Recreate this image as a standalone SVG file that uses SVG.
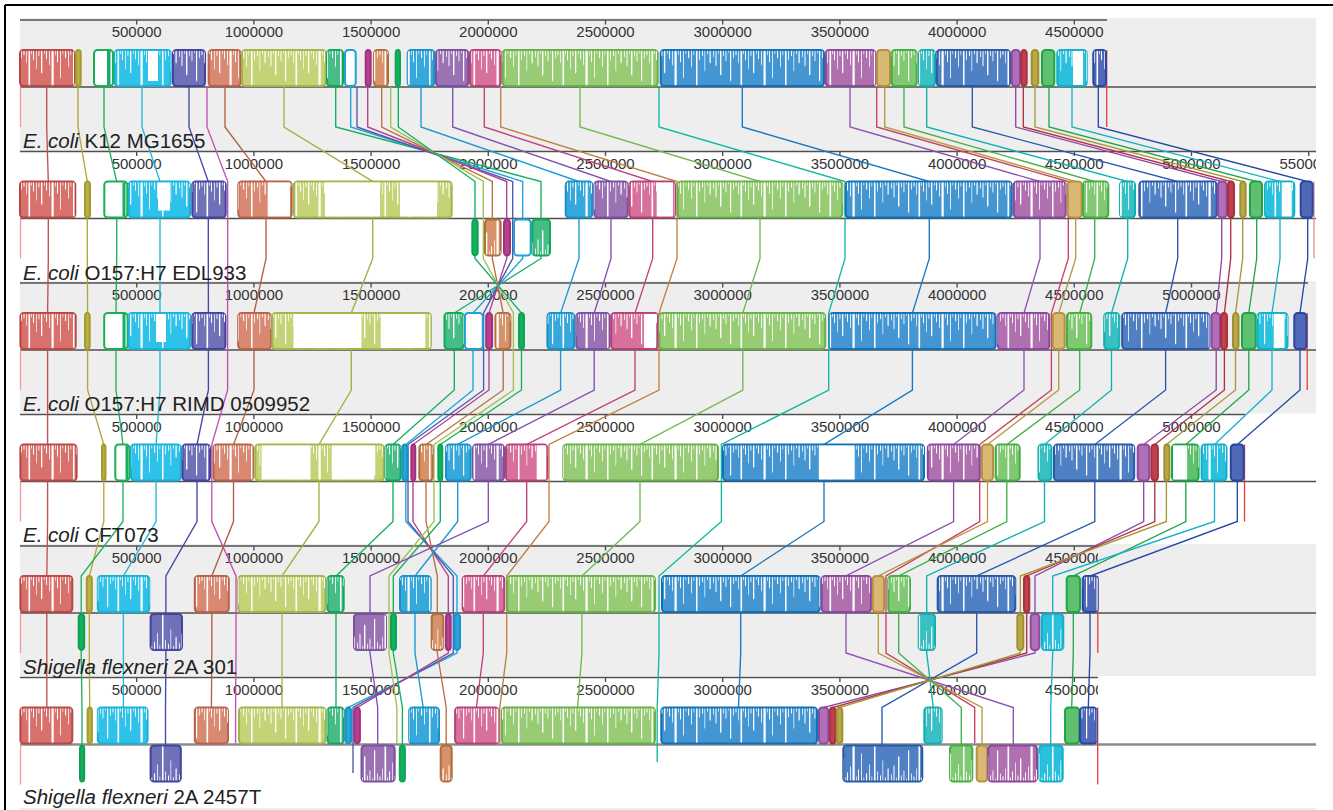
<svg xmlns="http://www.w3.org/2000/svg" width="1333" height="810" viewBox="0 0 1333 810">
<style>
.bg{fill:#eeeeee}
.ax{stroke:#505050;stroke-width:1.4;fill:none}
.tk{font-family:"Liberation Sans",Arial,sans-serif;font-size:15px;fill:#333;text-anchor:middle}
.gl{font-family:"Liberation Sans",Arial,sans-serif;font-size:20.5px;fill:#222}
.gl tspan{font-style:italic}
.cn path{fill:none;stroke-width:1.35}
.blk rect{stroke-width:2;rx:3.5px;ry:3.5px}
.blk rect.pf{fill:url(#prof);stroke:none}
.blk rect.wz{fill:#fff;stroke:none;rx:0;ry:0}
.blk rect.gz{stroke:none;rx:0;ry:0}
.st{stroke:#f29a9a;stroke-width:1.3}
.en{stroke:#e83a3a;stroke-width:1.3}
.A{fill:#d8706c;stroke:#b84848}
.B{fill:#b9b145;stroke:#a39b2e}
.C{fill:#fff;stroke:#18b050}
.C2{fill:#14b060;stroke:#10a050}
.D{fill:#2ec2ea;stroke:#18b2d8}
.E{fill:#6e70b8;stroke:#40449c}
.G{fill:#d98872;stroke:#b8624a}
.H{fill:#c6d276;stroke:#a4b44c}
.I{fill:#46bc86;stroke:#10a858}
.J{fill:#fff;stroke:#1ea0d8}
.J2{fill:#2aa2dc;stroke:#1890c8}
.L{fill:#b8408e;stroke:#a03080}
.M{fill:#d8926a;stroke:#b06e3c}
.O{fill:#14b062;stroke:#0ea454}
.P{fill:#36a8dc;stroke:#1890c8}
.Q{fill:#9a72b4;stroke:#7a50a0}
.R{fill:#d8709c;stroke:#b84078}
.T{fill:#98cc74;stroke:#68b048}
.V{fill:#4496d2;stroke:#1070b8}
.W{fill:#b070b0;stroke:#8848a0}
.Y{fill:#d8b872;stroke:#b89040}
.Z{fill:#80c872;stroke:#40b040}
.AA{fill:#38c0c4;stroke:#10b0b0}
.AB{fill:#5080c4;stroke:#2858a8}
.AC{fill:#b070b8;stroke:#9048a0}
.AD{fill:#c04050;stroke:#a83040}
.AE{fill:#b8a848;stroke:#a09030}
.AF{fill:#60c070;stroke:#18a848}
.AG{fill:#28c0dc;stroke:#10b0c8}
.AH{fill:#5068b8;stroke:#2848a0}
</style>
<defs>
  <!-- similarity profile: white gaps hang from the top of forward blocks and rise from the bottom of inverted ones; tile height = panel pitch -->
  <pattern id="prof" patternUnits="userSpaceOnUse" width="89" height="131.5">
    <g fill="#fff">
      <rect x="1" y="51" width="0.8" height="6"/><rect x="3.5" y="51" width="1" height="15"/><rect x="6" y="51" width="0.7" height="3"/>
      <rect x="8" y="51" width="1.4" height="24"/><rect x="11" y="51" width="0.8" height="5"/><rect x="13.5" y="51" width="0.9" height="10"/>
      <rect x="16" y="51" width="0.7" height="2"/><rect x="18" y="51" width="1.2" height="30"/><rect x="21" y="51" width="0.8" height="7"/>
      <rect x="23.5" y="51" width="1" height="4"/><rect x="26" y="51" width="0.7" height="12"/><rect x="28.5" y="51" width="1.6" height="34"/>
      <rect x="31" y="51" width="0.8" height="3"/><rect x="33" y="51" width="1" height="9"/><rect x="36" y="51" width="0.7" height="18"/>
      <rect x="38.5" y="51" width="0.9" height="5"/><rect x="41" y="51" width="1.3" height="22"/><rect x="44" y="51" width="0.7" height="3"/>
      <rect x="46" y="51" width="1" height="8"/><rect x="49" y="51" width="0.8" height="14"/><rect x="51.5" y="51" width="2.2" height="34"/>
      <rect x="55" y="51" width="0.7" height="4"/><rect x="57" y="51" width="1" height="11"/><rect x="60" y="51" width="0.8" height="27"/>
      <rect x="62.5" y="51" width="0.7" height="3"/><rect x="65" y="51" width="1.1" height="7"/><rect x="68" y="51" width="0.8" height="16"/>
      <rect x="70.5" y="51" width="0.7" height="4"/><rect x="73" y="51" width="1.5" height="34"/><rect x="76" y="51" width="0.8" height="9"/>
      <rect x="79" y="51" width="1" height="5"/><rect x="81.5" y="51" width="0.7" height="20"/><rect x="84" y="51" width="0.9" height="3"/>
      <rect x="86.5" y="51" width="1.2" height="12"/>
      <rect x="1" y="117" width="0.8" height="6"/><rect x="3.5" y="108" width="1" height="15"/><rect x="6" y="120" width="0.7" height="3"/>
      <rect x="8" y="99" width="1.4" height="24"/><rect x="11" y="118" width="0.8" height="5"/><rect x="13.5" y="113" width="0.9" height="10"/>
      <rect x="16" y="121" width="0.7" height="2"/><rect x="18" y="93" width="1.2" height="30"/><rect x="21" y="116" width="0.8" height="7"/>
      <rect x="23.5" y="119" width="1" height="4"/><rect x="26" y="111" width="0.7" height="12"/><rect x="28.5" y="89" width="1.6" height="34"/>
      <rect x="31" y="120" width="0.8" height="3"/><rect x="33" y="114" width="1" height="9"/><rect x="36" y="105" width="0.7" height="18"/>
      <rect x="38.5" y="118" width="0.9" height="5"/><rect x="41" y="101" width="1.3" height="22"/><rect x="44" y="120" width="0.7" height="3"/>
      <rect x="46" y="115" width="1" height="8"/><rect x="49" y="109" width="0.8" height="14"/><rect x="51.5" y="89" width="2.2" height="34"/>
      <rect x="55" y="119" width="0.7" height="4"/><rect x="57" y="112" width="1" height="11"/><rect x="60" y="96" width="0.8" height="27"/>
      <rect x="62.5" y="120" width="0.7" height="3"/><rect x="65" y="116" width="1.1" height="7"/><rect x="68" y="107" width="0.8" height="16"/>
      <rect x="70.5" y="119" width="0.7" height="4"/><rect x="73" y="89" width="1.5" height="34"/><rect x="76" y="114" width="0.8" height="9"/>
      <rect x="79" y="118" width="1" height="5"/><rect x="81.5" y="103" width="0.7" height="20"/><rect x="84" y="120" width="0.9" height="3"/>
      <rect x="86.5" y="111" width="1.2" height="12"/>
    </g>
  </pattern>
  <clipPath id="clipP2"><rect x="0" y="140" width="1316" height="40"/></clipPath>
  <clipPath id="clipP5"><rect x="0" y="540" width="1098" height="40"/></clipPath>
  <clipPath id="clipP6"><rect x="0" y="670" width="1098" height="40"/></clipPath>
</defs>

<!-- frame -->
<path d="M5 5H1333M5 5V810" stroke="#000" stroke-width="2" fill="none"/>

<!-- panel backgrounds (alternating shading) -->
<g id="backgrounds">
  <rect class="bg" x="20" y="18" width="1296" height="133.5"/>
  <rect class="bg" x="20" y="281" width="1296" height="132.5"/>
  <rect class="bg" x="20" y="544" width="1296" height="132"/>
  <rect class="bg" x="20" y="808" width="1296" height="2"/>
</g>

<!-- rulers, centre lines, genome start/end marks -->
<g id="axes">
  <path class="ax" d="M20 20H1107M136.7 20v4.5M253.9 20v4.5M371.1 20v4.5M488.3 20v4.5M605.5 20v4.5M722.7 20v4.5M839.9 20v4.5M957.1 20v4.5M1074.3 20v4.5"/>
  <path class="ax" d="M20 151.5H1316M136.7 151.5v4.5M253.9 151.5v4.5M371.1 151.5v4.5M488.3 151.5v4.5M605.5 151.5v4.5M722.7 151.5v4.5M839.9 151.5v4.5M957.1 151.5v4.5M1074.3 151.5v4.5M1191.5 151.5v4.5M1308.7 151.5v4.5"/>
  <path class="ax" d="M20 283H1308M136.7 283v4.5M253.9 283v4.5M371.1 283v4.5M488.3 283v4.5M605.5 283v4.5M722.7 283v4.5M839.9 283v4.5M957.1 283v4.5M1074.3 283v4.5M1191.5 283v4.5"/>
  <path class="ax" d="M20 414.5H1245M136.7 414.5v4.5M253.9 414.5v4.5M371.1 414.5v4.5M488.3 414.5v4.5M605.5 414.5v4.5M722.7 414.5v4.5M839.9 414.5v4.5M957.1 414.5v4.5M1074.3 414.5v4.5M1191.5 414.5v4.5"/>
  <path class="ax" d="M20 546H1098M136.7 546v4.5M253.9 546v4.5M371.1 546v4.5M488.3 546v4.5M605.5 546v4.5M722.7 546v4.5M839.9 546v4.5M957.1 546v4.5M1074.3 546v4.5"/>
  <path class="ax" d="M20 677.5H1098M136.7 677.5v4.5M253.9 677.5v4.5M371.1 677.5v4.5M488.3 677.5v4.5M605.5 677.5v4.5M722.7 677.5v4.5M839.9 677.5v4.5M957.1 677.5v4.5M1074.3 677.5v4.5"/>
  <path class="ax" d="M20 87H1316M20 218.5H1316M20 350H1316M20 481.5H1316M20 613H1316"/>
  <path d="M20 744.5H1316" stroke="#8c8c8c" stroke-width="2.5"/>
  <path class="st" d="M20.5 87V127M20.5 218.5V258.5M20.5 350V390M20.5 481.5V521.5M20.5 613V653M20.5 744.5V784.5"/>
  <path class="en" d="M1106.7 50V127M1307.2 313V390M1244.5 444.5V521.5M1097.8 576V653M1097.7 707.5V784.5"/>
  <path d="M1314 181.5V258.5" stroke="#f08a8a" stroke-width="1.3"/>
</g>

<!-- scale labels -->
<g id="scales" class="tk">
  <text x="136.7" y="37.3">500000</text><text x="253.9" y="37.3">1000000</text><text x="371.1" y="37.3">1500000</text><text x="488.3" y="37.3">2000000</text><text x="605.5" y="37.3">2500000</text><text x="722.7" y="37.3">3000000</text><text x="839.9" y="37.3">3500000</text><text x="957.1" y="37.3">4000000</text><text x="1074.3" y="37.3">4500000</text>
  <g clip-path="url(#clipP2)">
  <text x="136.7" y="168.8">500000</text><text x="253.9" y="168.8">1000000</text><text x="371.1" y="168.8">1500000</text><text x="488.3" y="168.8">2000000</text><text x="605.5" y="168.8">2500000</text><text x="722.7" y="168.8">3000000</text><text x="839.9" y="168.8">3500000</text><text x="957.1" y="168.8">4000000</text><text x="1074.3" y="168.8">4500000</text><text x="1191.5" y="168.8">5000000</text><text x="1308.7" y="168.8">5500000</text>
  </g>
  <text x="136.7" y="300.3">500000</text><text x="253.9" y="300.3">1000000</text><text x="371.1" y="300.3">1500000</text><text x="488.3" y="300.3">2000000</text><text x="605.5" y="300.3">2500000</text><text x="722.7" y="300.3">3000000</text><text x="839.9" y="300.3">3500000</text><text x="957.1" y="300.3">4000000</text><text x="1074.3" y="300.3">4500000</text><text x="1191.5" y="300.3">5000000</text>
  <text x="136.7" y="431.8">500000</text><text x="253.9" y="431.8">1000000</text><text x="371.1" y="431.8">1500000</text><text x="488.3" y="431.8">2000000</text><text x="605.5" y="431.8">2500000</text><text x="722.7" y="431.8">3000000</text><text x="839.9" y="431.8">3500000</text><text x="957.1" y="431.8">4000000</text><text x="1074.3" y="431.8">4500000</text><text x="1191.5" y="431.8">5000000</text>
  <g clip-path="url(#clipP5)">
  <text x="136.7" y="563.3">500000</text><text x="253.9" y="563.3">1000000</text><text x="371.1" y="563.3">1500000</text><text x="488.3" y="563.3">2000000</text><text x="605.5" y="563.3">2500000</text><text x="722.7" y="563.3">3000000</text><text x="839.9" y="563.3">3500000</text><text x="957.1" y="563.3">4000000</text><text x="1074.3" y="563.3">4500000</text>
  </g>
  <g clip-path="url(#clipP6)">
  <text x="136.7" y="694.8">500000</text><text x="253.9" y="694.8">1000000</text><text x="371.1" y="694.8">1500000</text><text x="488.3" y="694.8">2000000</text><text x="605.5" y="694.8">2500000</text><text x="722.7" y="694.8">3000000</text><text x="839.9" y="694.8">3500000</text><text x="957.1" y="694.8">4000000</text><text x="1074.3" y="694.8">4500000</text>
  </g>
</g>

<!-- connectors: one polyline per collinear block, through all six genomes -->
<g id="connectors" class="cn">
  <path stroke="#c05050" d="M46.7 87V127L48.3 181.5V258.5L47.6 313V390L47.6 444.5V521.5L46.8 576V653L46.8 707.5V725"/>
  <path stroke="#b0a838" d="M78 87V127L87.3 181.5V258.5L87.6 313V390L103.8 444.5V521.5L89.3 576V653L89.7 707.5V725"/>
  <path stroke="#20b060" d="M104 87V127L116.7 181.5V258.5L116 313V390L123 444.5V521.5L81.2 576V653L82 707.5V760"/>
  <path stroke="#20b8d8" d="M142 87V127L160 181.5V258.5L160 313V390L156.1 444.5V521.5L123.4 576V653L123.4 707.5V725"/>
  <path stroke="#4048a8" d="M189 87V127L208.3 181.5V258.5L208.4 313V390L197 444.5V521.5L165.9 576V653L165.5 707.5V760"/>
  <path stroke="#c050b8" d="M207 87V127L227.7 181.5V258.5L227.6 313V390L211.8 444.5V521.5L236 576V653L235.6 707.5V743"/>
  <path stroke="#b06040" d="M225 87V127L266 181.5V258.5L254 313V390L233.5 444.5V521.5L211.8 576V653L211.4 707.5V725"/>
  <path stroke="#a8b040" d="M284 87V127L372.7 181.5V258.5L351.3 313V390L319 444.5V521.5L282 576V653L282 707.5V725"/>
  <path stroke="#10b060" d="M335.7 87V127L541 181.5V258.5L454.3 313V390L393 444.5V521.5L336 576V653L336 707.5V725"/>
  <path stroke="#20a0d8" d="M350.7 87V127L522.7 181.5V258.5L473 313V390L405.8 444.5V521.5L457 576V653L348.4 707.5V725"/>
  <path stroke="#5058b0" d="M357 87V127L512.7 181.5V258.5L483.6 313V390L408 444.5V521.5L453.3 576V653L353 707.5V773"/>
  <path stroke="#b04090" d="M367.7 87V127L506.7 181.5V258.5L489 313V390L413 444.5V521.5L448.3 576V653L357.3 707.5V725"/>
  <path stroke="#b87040" d="M381.7 87V127L492.3 181.5V258.5L503.2 313V390L426 444.5V521.5L437.3 576V653L446.2 707.5V760"/>
  <path stroke="#a0c050" d="M390.7 87V127L483.3 181.5V258.5L513.4 313V390L434 444.5V521.5L389 576V653L396.9 707.5V743"/>
  <path stroke="#10b060" d="M398.3 87V127L475 181.5V258.5L521.5 313V390L440.3 444.5V521.5L393.3 576V653L402.4 707.5V760"/>
  <path stroke="#1898d0" d="M421 87V127L579 181.5V258.5L560.6 313V390L457.7 444.5V521.5L415 576V653L423.2 707.5V725"/>
  <path stroke="#8050b0" d="M452.7 87V127L611 181.5V258.5L594.2 313V390L488.3 444.5V521.5L370 576V653L377.7 707.5V760"/>
  <path stroke="#c04080" d="M484.3 87V127L652.7 181.5V258.5L635 313V390L526.7 444.5V521.5L483.3 576V653L476.4 707.5V725"/>
  <path stroke="#c08040" d="M500.7 87V127L677 181.5V258.5L659 313V390L549 444.5V521.5L506.7 576V653L499.8 707.5V743"/>
  <path stroke="#70b850" d="M580 87V127L760 181.5V258.5L742.8 313V390L640 444.5V521.5L581.9 576V653L577.6 707.5V725"/>
  <path stroke="#10b8a0" d="M659 87V127L845 181.5V258.5L828.7 313V390L721.4 444.5V521.5L659 576V653L657.2 707.5V762"/>
  <path stroke="#1878c0" d="M742.3 87V127L929.3 181.5V258.5L912.4 313V390L824 444.5V521.5L740.7 576V653L738.5 707.5V725"/>
  <path stroke="#9050b0" d="M850 87V127L1040 181.5V258.5L1024 313V390L953.6 444.5V521.5L846 576V653L1013.3 707.5V760"/>
  <path stroke="#c84060" d="M876.7 87V127L1068.3 181.5V258.5L1051.4 313V390L979.7 444.5V521.5L886 576V653L974.7 707.5V743"/>
  <path stroke="#b89840" d="M884.7 87V127L1075.7 181.5V258.5L1058.7 313V390L987.5 444.5V521.5L878.3 576V653L982 707.5V760"/>
  <path stroke="#40b048" d="M904 87V127L1094.7 181.5V258.5L1079.7 313V390L1006.8 444.5V521.5L898.7 576V653L961.3 707.5V760"/>
  <path stroke="#10b0b0" d="M926.7 87V127L1127.7 181.5V258.5L1111.5 313V390L1044.5 444.5V521.5L926.7 576V653L933.3 707.5V725"/>
  <path stroke="#2858b0" d="M972.3 87V127L1177.7 181.5V258.5L1165.6 313V390L1094.8 444.5V521.5L976.7 576V653L882 707.5V760"/>
  <path stroke="#9048a8" d="M1015.7 87V127L1221.7 181.5V258.5L1216.2 313V390L1143.7 444.5V521.5L1035 576V653L823.3 707.5V725"/>
  <path stroke="#b03048" d="M1023.3 87V127L1230.7 181.5V258.5L1224.4 313V390L1154.8 444.5V521.5L1026.7 576V653L832.7 707.5V725"/>
  <path stroke="#a89838" d="M1035 87V127L1242.7 181.5V258.5L1235.5 313V390L1166.4 444.5V521.5L1020.3 576V653L839.3 707.5V725"/>
  <path stroke="#20a848" d="M1049 87V127L1256.7 181.5V258.5L1248.8 313V390L1185.8 444.5V521.5L1073.3 576V653L1071.7 707.5V725"/>
  <path stroke="#18b0c8" d="M1072 87V127L1280 181.5V258.5L1272 313V390L1214.5 444.5V521.5L1052.7 576V653L1050.7 707.5V760"/>
  <path stroke="#2848a8" d="M1098.3 87V127L1307.7 181.5V258.5L1300 313V390L1237.3 444.5V521.5L1090 576V653L1088.3 707.5V725"/>
</g>

<!-- E. coli K12 MG1655 -->
<g id="genome-k12" class="blk">
  <rect class="A" x="20" y="50" width="54" height="36"/><rect class="pf" x="20" y="50" width="54" height="36"/>
  <rect class="B" x="76" y="50" width="4.7" height="36"/>
  <rect class="C" x="94" y="50" width="19" height="36"/><rect class="gz" fill="#14b060" x="107" y="51" width="3.5" height="34"/>
  <rect class="D" x="114.7" y="50" width="56" height="36"/><rect class="pf" x="114.7" y="50" width="56" height="36"/><rect class="wz" x="148" y="51" width="10" height="30"/>
  <rect class="E" x="173" y="50" width="32" height="36"/><rect class="pf" x="173" y="50" width="32" height="36"/>
  <rect class="G" x="208.7" y="50" width="32" height="36"/><rect class="pf" x="208.7" y="50" width="32" height="36"/>
  <rect class="H" x="242" y="50" width="83.7" height="36"/><rect class="pf" x="242" y="50" width="83.7" height="36"/>
  <rect class="I" x="327" y="50" width="16" height="36"/><rect class="pf" x="327" y="50" width="16" height="36"/>
  <rect class="J" x="345" y="50" width="10.7" height="36"/>
  <rect class="L" x="365.7" y="50" width="5" height="36"/>
  <rect class="M" x="374" y="50" width="14" height="36"/><rect class="pf" x="374" y="50" width="14" height="36"/>
  <rect class="O" x="395.7" y="50" width="4.3" height="36"/>
  <rect class="P" x="407.7" y="50" width="26.6" height="36"/><rect class="pf" x="407.7" y="50" width="26.6" height="36"/>
  <rect class="Q" x="436" y="50" width="32.3" height="36"/><rect class="pf" x="436" y="50" width="32.3" height="36"/>
  <rect class="R" x="470" y="50" width="30.7" height="36"/><rect class="pf" x="470" y="50" width="30.7" height="36"/>
  <rect class="T" x="502.7" y="50" width="155" height="36"/><rect class="pf" x="502.7" y="50" width="155" height="36"/>
  <rect class="V" x="660.7" y="50" width="163.3" height="36"/><rect class="pf" x="660.7" y="50" width="163.3" height="36"/>
  <rect class="W" x="825.7" y="50" width="49.6" height="36"/><rect class="pf" x="825.7" y="50" width="49.6" height="36"/>
  <rect class="Y" x="877" y="50" width="13" height="36"/>
  <rect class="Z" x="891.7" y="50" width="25" height="36"/><rect class="pf" x="891.7" y="50" width="25" height="36"/>
  <rect class="AA" x="919" y="50" width="16" height="36"/><rect class="pf" x="919" y="50" width="16" height="36"/>
  <rect class="AB" x="936.7" y="50" width="73.3" height="36"/><rect class="pf" x="936.7" y="50" width="73.3" height="36"/>
  <rect class="AC" x="1011.7" y="50" width="8.3" height="36"/>
  <rect class="AD" x="1021.3" y="50" width="5.4" height="36"/>
  <rect class="AE" x="1031.7" y="50" width="6.6" height="36"/>
  <rect class="AF" x="1042" y="50" width="12.3" height="36"/>
  <rect class="AG" x="1057.3" y="50" width="29.4" height="36"/><rect class="pf" x="1057.3" y="50" width="29.4" height="36"/><rect class="wz" x="1073" y="51" width="10" height="34"/>
  <rect class="AH" x="1093.3" y="50" width="12.7" height="36"/><rect class="pf" x="1093.3" y="50" width="12.7" height="36"/>
  <text class="gl" x="23" y="148"><tspan>E. coli</tspan> K12 MG1655</text>
</g>

<!-- E. coli O157:H7 EDL933 -->
<g id="genome-edl933" class="blk">
  <rect class="A" x="20" y="181.5" width="55.3" height="36"/><rect class="pf" x="20" y="181.5" width="55.3" height="36"/>
  <rect class="B" x="85" y="181.5" width="5" height="36"/>
  <rect class="C" x="104.3" y="181.5" width="23" height="36"/><rect class="gz" fill="#14b060" x="122.5" y="182.5" width="3" height="34"/>
  <rect class="D" x="128.7" y="181.5" width="61.3" height="36"/><rect class="pf" x="128.7" y="181.5" width="61.3" height="36"/><rect class="wz" x="158" y="182.5" width="12" height="28"/>
  <rect class="E" x="192.3" y="181.5" width="33.4" height="36"/><rect class="pf" x="192.3" y="181.5" width="33.4" height="36"/>
  <rect class="G" x="238.3" y="181.5" width="53.4" height="36"/><rect class="pf" x="238.3" y="181.5" width="53.4" height="36"/><rect class="wz" x="267.7" y="182.5" width="22.3" height="34"/>
  <rect class="H" x="294" y="181.5" width="157.7" height="36"/><rect class="pf" x="294" y="181.5" width="157.7" height="36"/><rect class="wz" x="325" y="182.5" width="55" height="34"/><rect class="wz" x="400" y="182.5" width="37" height="34"/>
  <rect class="O" x="472.3" y="219.5" width="5.4" height="36"/>
  <rect class="M" x="485" y="219.5" width="15.7" height="36"/><rect class="pf" x="485" y="219.5" width="15.7" height="36"/>
  <rect class="L" x="504" y="219.5" width="6" height="36"/>
  <rect class="J" x="514" y="219.5" width="16.7" height="36"/>
  <rect class="I" x="532.3" y="219.5" width="17.7" height="36"/><rect class="pf" x="532.3" y="219.5" width="17.7" height="36"/>
  <rect class="P" x="565.7" y="181.5" width="26.6" height="36"/><rect class="pf" x="565.7" y="181.5" width="26.6" height="36"/>
  <rect class="Q" x="594.3" y="181.5" width="33.4" height="36"/><rect class="pf" x="594.3" y="181.5" width="33.4" height="36"/>
  <rect class="R" x="629.3" y="181.5" width="45.7" height="36"/><rect class="pf" x="629.3" y="181.5" width="45.7" height="36"/><rect class="wz" x="656.7" y="182.5" width="16.3" height="34"/>
  <rect class="T" x="677.7" y="181.5" width="164.6" height="36"/><rect class="pf" x="677.7" y="181.5" width="164.6" height="36"/>
  <rect class="V" x="845.7" y="181.5" width="166" height="36"/><rect class="pf" x="845.7" y="181.5" width="166" height="36"/>
  <rect class="W" x="1013.7" y="181.5" width="52" height="36"/><rect class="pf" x="1013.7" y="181.5" width="52" height="36"/>
  <rect class="Y" x="1067.7" y="181.5" width="14" height="36"/>
  <rect class="Z" x="1083" y="181.5" width="25.3" height="36"/><rect class="pf" x="1083" y="181.5" width="25.3" height="36"/>
  <rect class="AA" x="1120" y="181.5" width="15" height="36"/><rect class="pf" x="1120" y="181.5" width="15" height="36"/>
  <rect class="AB" x="1139.3" y="181.5" width="77.4" height="36"/><rect class="pf" x="1139.3" y="181.5" width="77.4" height="36"/>
  <rect class="AC" x="1218" y="181.5" width="8.7" height="36"/>
  <rect class="AD" x="1228" y="181.5" width="6" height="36"/>
  <rect class="AE" x="1240.3" y="181.5" width="5.4" height="36"/>
  <rect class="AF" x="1250" y="181.5" width="12" height="36"/>
  <rect class="AG" x="1265" y="181.5" width="29.3" height="36"/><rect class="pf" x="1265" y="181.5" width="29.3" height="36"/><rect class="wz" x="1281.7" y="182.5" width="10" height="34"/>
  <rect class="AH" x="1300.7" y="181.5" width="12" height="36"/>
  <text class="gl" x="23" y="279.5"><tspan>E. coli</tspan> O157:H7 EDL933</text>
</g>

<!-- E. coli O157:H7 RIMD 0509952 -->
<g id="genome-rimd" class="blk">
  <rect class="A" x="20.4" y="313" width="55.3" height="36"/><rect class="pf" x="20.4" y="313" width="55.3" height="36"/>
  <rect class="B" x="85" y="313" width="4.7" height="36"/>
  <rect class="C" x="104.2" y="313" width="23.4" height="36"/><rect class="gz" fill="#14b060" x="122.5" y="314" width="3" height="34"/>
  <rect class="D" x="128.5" y="313" width="61.6" height="36"/><rect class="pf" x="128.5" y="313" width="61.6" height="36"/><rect class="wz" x="156" y="314" width="10" height="28"/>
  <rect class="E" x="192.3" y="313" width="33.1" height="36"/><rect class="pf" x="192.3" y="313" width="33.1" height="36"/>
  <rect class="G" x="238.2" y="313" width="32.8" height="36"/><rect class="pf" x="238.2" y="313" width="32.8" height="36"/>
  <rect class="H" x="272.2" y="313" width="158.7" height="36"/><rect class="pf" x="272.2" y="313" width="158.7" height="36"/><rect class="wz" x="293.5" y="314" width="68" height="34"/><rect class="wz" x="380.7" y="314" width="44.6" height="34"/>
  <rect class="I" x="444.5" y="313" width="19.1" height="36"/><rect class="pf" x="444.5" y="313" width="19.1" height="36"/>
  <rect class="J" x="464.9" y="313" width="17.9" height="36"/>
  <rect class="L" x="486.2" y="313" width="5.9" height="36"/>
  <rect class="M" x="495.5" y="313" width="14.9" height="36"/><rect class="pf" x="495.5" y="313" width="14.9" height="36"/>
  <rect class="O" x="519" y="313" width="5" height="36"/>
  <rect class="P" x="547.4" y="313" width="26.8" height="36"/><rect class="pf" x="547.4" y="313" width="26.8" height="36"/>
  <rect class="Q" x="576.3" y="313" width="33.2" height="36"/><rect class="pf" x="576.3" y="313" width="33.2" height="36"/>
  <rect class="R" x="611.2" y="313" width="46.8" height="36"/><rect class="pf" x="611.2" y="313" width="46.8" height="36"/><rect class="wz" x="644" y="314" width="12" height="34"/>
  <rect class="T" x="659.3" y="313" width="165.9" height="36"/><rect class="pf" x="659.3" y="313" width="165.9" height="36"/>
  <rect class="V" x="829.5" y="313" width="166.1" height="36"/><rect class="pf" x="829.5" y="313" width="166.1" height="36"/>
  <rect class="W" x="997.8" y="313" width="51.5" height="36"/><rect class="pf" x="997.8" y="313" width="51.5" height="36"/>
  <rect class="Y" x="1052.7" y="313" width="12" height="36"/>
  <rect class="Z" x="1066.9" y="313" width="24.4" height="36"/><rect class="pf" x="1066.9" y="313" width="24.4" height="36"/>
  <rect class="AA" x="1104.2" y="313" width="15" height="36"/><rect class="pf" x="1104.2" y="313" width="15" height="36"/>
  <rect class="AB" x="1122.2" y="313" width="87.2" height="36"/><rect class="pf" x="1122.2" y="313" width="87.2" height="36"/>
  <rect class="AC" x="1211.5" y="313" width="8.5" height="36"/>
  <rect class="AD" x="1221" y="313" width="6" height="36"/>
  <rect class="AE" x="1233" y="313" width="5.5" height="36"/>
  <rect class="AF" x="1242" y="313" width="13.7" height="36"/>
  <rect class="AG" x="1257.4" y="313" width="30.1" height="36"/><rect class="pf" x="1257.4" y="313" width="30.1" height="36"/><rect class="wz" x="1273.7" y="314" width="10.8" height="34"/>
  <rect class="AH" x="1294.3" y="313" width="12.1" height="36"/>
  <text class="gl" x="23" y="411"><tspan>E. coli</tspan> O157:H7 RIMD 0509952</text>
</g>

<!-- E. coli CFT073 -->
<g id="genome-cft073" class="blk">
  <rect class="A" x="20.4" y="444.5" width="56.2" height="36"/><rect class="pf" x="20.4" y="444.5" width="56.2" height="36"/>
  <rect class="B" x="102" y="444.5" width="3.5" height="36"/>
  <rect class="C" x="115.3" y="444.5" width="14" height="36"/><rect class="gz" fill="#14b060" x="125.5" y="445.5" width="2.5" height="34"/>
  <rect class="D" x="131" y="444.5" width="49.8" height="36"/><rect class="pf" x="131" y="444.5" width="49.8" height="36"/>
  <rect class="E" x="182.5" y="444.5" width="27.5" height="36"/><rect class="pf" x="182.5" y="444.5" width="27.5" height="36"/>
  <rect class="G" x="213.5" y="444.5" width="39.5" height="36"/><rect class="pf" x="213.5" y="444.5" width="39.5" height="36"/>
  <rect class="H" x="255.2" y="444.5" width="128.5" height="36"/><rect class="pf" x="255.2" y="444.5" width="128.5" height="36"/><rect class="wz" x="261.6" y="445.5" width="48.9" height="34"/><rect class="wz" x="331.8" y="445.5" width="42.5" height="34"/>
  <rect class="I" x="385.4" y="444.5" width="15.3" height="36"/><rect class="pf" x="385.4" y="444.5" width="15.3" height="36"/>
  <rect class="J2" x="402.4" y="444.5" width="5.1" height="36"/>
  <rect class="L" x="411.3" y="444.5" width="4" height="36"/>
  <rect class="M" x="419.3" y="444.5" width="13.4" height="36"/><rect class="pf" x="419.3" y="444.5" width="13.4" height="36"/>
  <rect class="O" x="438.3" y="444.5" width="4" height="36"/>
  <rect class="P" x="446" y="444.5" width="24.7" height="36"/><rect class="pf" x="446" y="444.5" width="24.7" height="36"/>
  <rect class="Q" x="473" y="444.5" width="31" height="36"/><rect class="pf" x="473" y="444.5" width="31" height="36"/>
  <rect class="R" x="506" y="444.5" width="41.3" height="36"/><rect class="pf" x="506" y="444.5" width="41.3" height="36"/><rect class="wz" x="536.7" y="445.5" width="9.5" height="34"/>
  <rect class="T" x="563.3" y="444.5" width="154.7" height="36"/><rect class="pf" x="563.3" y="444.5" width="154.7" height="36"/>
  <rect class="V" x="723" y="444.5" width="201" height="36"/><rect class="pf" x="723" y="444.5" width="201" height="36"/><rect class="wz" x="818.8" y="445.5" width="34.2" height="34"/>
  <rect class="W" x="927.8" y="444.5" width="51.9" height="36"/><rect class="pf" x="927.8" y="444.5" width="51.9" height="36"/>
  <rect class="Y" x="981.9" y="444.5" width="11.1" height="36"/>
  <rect class="Z" x="995.6" y="444.5" width="24.1" height="36"/><rect class="pf" x="995.6" y="444.5" width="24.1" height="36"/>
  <rect class="AA" x="1038.5" y="444.5" width="12.9" height="36"/><rect class="pf" x="1038.5" y="444.5" width="12.9" height="36"/>
  <rect class="AB" x="1054" y="444.5" width="80.2" height="36"/><rect class="pf" x="1054" y="444.5" width="80.2" height="36"/>
  <rect class="AC" x="1137.7" y="444.5" width="11.6" height="36"/>
  <rect class="AD" x="1151.4" y="444.5" width="6.5" height="36"/>
  <rect class="AE" x="1164.3" y="444.5" width="5.1" height="36"/>
  <rect class="AF" x="1172" y="444.5" width="26.6" height="36"/><rect class="pf" x="1172" y="444.5" width="26.6" height="36"/><rect class="wz" x="1173" y="445.5" width="12.8" height="34"/>
  <rect class="AG" x="1201.6" y="444.5" width="24.9" height="36"/><rect class="pf" x="1201.6" y="444.5" width="24.9" height="36"/>
  <rect class="AH" x="1230.8" y="444.5" width="12.9" height="36"/>
  <text class="gl" x="23" y="542"><tspan>E. coli</tspan> CFT073</text>
</g>

<!-- Shigella flexneri 2A 301 -->
<g id="genome-sf301" class="blk">
  <rect class="A" x="20.4" y="576" width="51.9" height="36"/><rect class="pf" x="20.4" y="576" width="51.9" height="36"/>
  <rect class="C2" x="78.7" y="614" width="5.5" height="36"/>
  <rect class="B" x="86.8" y="576" width="5.1" height="36"/>
  <rect class="D" x="97.8" y="576" width="51.5" height="36"/><rect class="pf" x="97.8" y="576" width="51.5" height="36"/>
  <rect class="E" x="150.6" y="614" width="31.4" height="36"/><rect class="pf" x="150.6" y="614" width="31.4" height="36"/>
  <rect class="G" x="194.8" y="576" width="34" height="36"/><rect class="pf" x="194.8" y="576" width="34" height="36"/>
  <rect class="H" x="238.2" y="576" width="87.2" height="36"/><rect class="pf" x="238.2" y="576" width="87.2" height="36"/>
  <rect class="I" x="327.5" y="576" width="16.2" height="36"/><rect class="pf" x="327.5" y="576" width="16.2" height="36"/>
  <rect class="Q" x="354" y="614" width="32" height="36"/><rect class="pf" x="354" y="614" width="32" height="36"/>
  <rect class="O" x="391" y="614" width="5" height="36"/>
  <rect class="P" x="400" y="576" width="30.7" height="36"/><rect class="pf" x="400" y="576" width="30.7" height="36"/>
  <rect class="M" x="431.7" y="614" width="11.6" height="36"/><rect class="pf" x="431.7" y="614" width="11.6" height="36"/>
  <rect class="L" x="446" y="614" width="4.7" height="36"/>
  <rect class="J2" x="454.3" y="614" width="5.7" height="36"/>
  <rect class="R" x="462.7" y="576" width="41.6" height="36"/><rect class="pf" x="462.7" y="576" width="41.6" height="36"/>
  <rect class="T" x="507.3" y="576" width="147.7" height="36"/><rect class="pf" x="507.3" y="576" width="147.7" height="36"/>
  <rect class="V" x="662" y="576" width="157.7" height="36"/><rect class="pf" x="662" y="576" width="157.7" height="36"/>
  <rect class="W" x="821.7" y="576" width="49.3" height="36"/><rect class="pf" x="821.7" y="576" width="49.3" height="36"/>
  <rect class="Y" x="872.7" y="576" width="11.3" height="36"/>
  <rect class="Z" x="888.3" y="576" width="21.7" height="36"/><rect class="pf" x="888.3" y="576" width="21.7" height="36"/>
  <rect class="AA" x="918.7" y="614" width="16.3" height="36"/><rect class="pf" x="918.7" y="614" width="16.3" height="36"/>
  <rect class="AB" x="937.7" y="576" width="77.6" height="36"/><rect class="pf" x="937.7" y="576" width="77.6" height="36"/>
  <rect class="AE" x="1017.3" y="614" width="6" height="36"/>
  <rect class="AD" x="1024" y="576" width="5.3" height="36"/>
  <rect class="AC" x="1030.7" y="614" width="8.6" height="36"/>
  <rect class="AG" x="1041.7" y="614" width="21.6" height="36"/><rect class="pf" x="1041.7" y="614" width="21.6" height="36"/>
  <rect class="AF" x="1066.7" y="576" width="13.3" height="36"/>
  <rect class="AH" x="1082.7" y="576" width="15" height="36"/><rect class="pf" x="1082.7" y="576" width="15" height="36"/>
  <text class="gl" x="23" y="673.5"><tspan>Shigella flexneri</tspan> 2A 301</text>
</g>

<!-- Shigella flexneri 2A 2457T -->
<g id="genome-sf2457t" class="blk">
  <rect class="A" x="20.4" y="707.5" width="51.9" height="36"/><rect class="pf" x="20.4" y="707.5" width="51.9" height="36"/>
  <rect class="C2" x="80" y="745.5" width="4.2" height="36"/>
  <rect class="B" x="87.6" y="707.5" width="4.3" height="36"/>
  <rect class="D" x="97.8" y="707.5" width="49.8" height="36"/><rect class="pf" x="97.8" y="707.5" width="49.8" height="36"/>
  <rect class="E" x="150.6" y="745.5" width="30.2" height="36"/><rect class="pf" x="150.6" y="745.5" width="30.2" height="36"/>
  <rect class="G" x="194.8" y="707.5" width="33.2" height="36"/><rect class="pf" x="194.8" y="707.5" width="33.2" height="36"/>
  <rect class="H" x="239" y="707.5" width="86.4" height="36"/><rect class="pf" x="239" y="707.5" width="86.4" height="36"/>
  <rect class="I" x="327.5" y="707.5" width="16.2" height="36"/><rect class="pf" x="327.5" y="707.5" width="16.2" height="36"/>
  <rect class="J2" x="345.4" y="707.5" width="5.9" height="36"/>
  <rect class="L" x="354.3" y="707.5" width="5.6" height="36"/>
  <rect class="Q" x="361.5" y="745.5" width="33.2" height="36"/><rect class="pf" x="361.5" y="745.5" width="33.2" height="36"/>
  <rect class="O" x="399.8" y="745.5" width="5.1" height="36"/>
  <rect class="P" x="409.2" y="707.5" width="29.8" height="36"/><rect class="pf" x="409.2" y="707.5" width="29.8" height="36"/>
  <rect class="M" x="440.7" y="745.5" width="11" height="36"/><rect class="pf" x="440.7" y="745.5" width="11" height="36"/>
  <rect class="R" x="455.1" y="707.5" width="43.4" height="36"/><rect class="pf" x="455.1" y="707.5" width="43.4" height="36"/>
  <rect class="T" x="501.9" y="707.5" width="153.1" height="36"/><rect class="pf" x="501.9" y="707.5" width="153.1" height="36"/>
  <rect class="V" x="661.3" y="707.5" width="155.8" height="36"/><rect class="pf" x="661.3" y="707.5" width="155.8" height="36"/>
  <rect class="AC" x="819" y="707.5" width="9.3" height="36"/>
  <rect class="AD" x="830" y="707.5" width="5.3" height="36"/>
  <rect class="AE" x="836.7" y="707.5" width="5.6" height="36"/>
  <rect class="AB" x="843.3" y="745.5" width="79" height="36"/><rect class="pf" x="843.3" y="745.5" width="79" height="36"/>
  <rect class="AA" x="924.3" y="707.5" width="17.4" height="36"/><rect class="pf" x="924.3" y="707.5" width="17.4" height="36"/>
  <rect class="Z" x="950" y="745.5" width="22.3" height="36"/><rect class="pf" x="950" y="745.5" width="22.3" height="36"/>
  <rect class="Y" x="976.7" y="745.5" width="10.6" height="36"/>
  <rect class="W" x="988.3" y="745.5" width="48.7" height="36"/><rect class="pf" x="988.3" y="745.5" width="48.7" height="36"/>
  <rect class="AG" x="1039.3" y="745.5" width="23.4" height="36"/><rect class="pf" x="1039.3" y="745.5" width="23.4" height="36"/>
  <rect class="AF" x="1065" y="707.5" width="14.3" height="36"/>
  <rect class="AH" x="1080" y="707.5" width="16.7" height="36"/><rect class="pf" x="1080" y="707.5" width="16.7" height="36"/>
  <text class="gl" x="23" y="804"><tspan>Shigella flexneri</tspan> 2A 2457T</text>
</g>
</svg>
